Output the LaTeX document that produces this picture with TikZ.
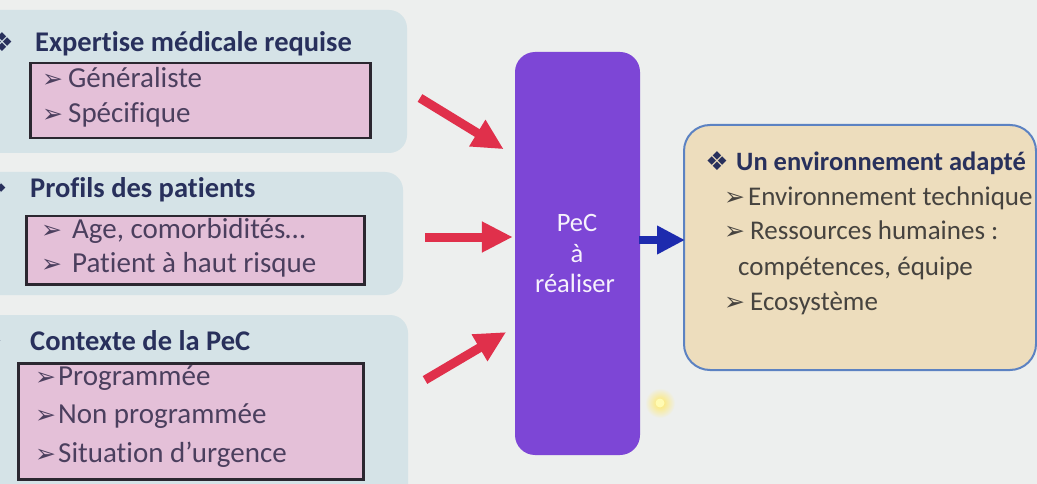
\documentclass[tikz,border=0pt]{standalone}
\usepackage{fontspec}
\setmainfont{Carlito}[Ligatures=NoCommon]
\newfontfamily\symfont{DejaVu Sans}
\usetikzlibrary{arrows.meta}

\definecolor{bgc}{HTML}{EDEFEE}
\definecolor{panelc}{HTML}{D5E3E7}
\definecolor{pinkc}{HTML}{E4C0D8}
\definecolor{pinkline}{HTML}{2B2730}
\definecolor{navyc}{HTML}{28305C}
\definecolor{itemc}{HTML}{4B3F5E}
\definecolor{purplec}{HTML}{7D46D6}
\definecolor{redc}{HTML}{E0304B}
\definecolor{bluec}{HTML}{1D2BAE}
\definecolor{envfill}{HTML}{EDDDBD}
\definecolor{envline}{HTML}{5C82C2}
\definecolor{envtext}{HTML}{46433F}

% four-diamond bullet for headings, arrowhead bullet for items
\newcommand{\diamondmark}{{\symfont\fontsize{26}{26}\selectfont ❖}}
\newcommand{\arrowmark}[1]{\makebox[#1][l]{\symfont\fontsize{25}{25}\selectfont ➢}}

\tikzset{
  panel/.style={fill=panelc, rounded corners=18pt},
  title/.style={anchor=base west, inner sep=0pt, text=navyc,
    font=\fontsize{28.5}{32}\selectfont\bfseries},
  item/.style={anchor=base west, inner sep=0pt, text=itemc,
    font=\fontsize{29}{32}\selectfont},
  envtitle/.style={anchor=base west, inner sep=0pt, text=navyc,
    font=\fontsize{26.5}{32}\selectfont\bfseries},
  envitem/.style={anchor=base west, inner sep=0pt, text=envtext,
    font=\fontsize{27}{32}\selectfont},
  symmark/.style={anchor=base, inner sep=0pt, text=navyc},
  pinkbox/.style={anchor=north west, draw=pinkline, line width=2.5pt,
    fill=pinkc, inner sep=0pt},
  pecbox/.style={fill=purplec, rounded corners=20pt, inner sep=0pt,
    minimum width=125pt, minimum height=403pt},
  pectext/.style={text=white!93!purplec, anchor=base, inner sep=0pt,
    font=\fontsize{26.5}{30}\selectfont},
  envbox/.style={draw=envline, line width=2pt, fill=envfill,
    rounded corners=26pt, inner sep=0pt, anchor=north west,
    minimum width=352pt, minimum height=245pt},
  inarrow/.style={draw=redc, line width=9pt,
    -{Triangle[length=31pt,width=29pt]}},
  outarrow/.style={draw=bluec, line width=8pt,
    -{Triangle[length=28pt,width=27pt]}}
}

\begin{document}
\begin{tikzpicture}[x=1pt,y=-1pt]
\useasboundingbox (0,0) rectangle (1037,484);
\clip (0,0) rectangle (1037,484);
\fill[bgc] (0,0) rectangle (1037,484);

% left-hand panels
\fill[panel] (-40,10) rectangle (407,153);
\fill[panel] (-40,172) rectangle (403,295);
\fill[panel] (-40,315) rectangle (408,520);

% panel 1: medical expertise
\node[symmark] (d1) at (2,52) {\diamondmark};
\node[title] (t1) at (35,52) {Expertise médicale requise};
\node[pinkbox, minimum width=340pt, minimum height=75pt] (p1) at (29,62) {};
\node[item] (i11) at (42,88) {\arrowmark{26pt}Généraliste};
\node[item] (i12) at (42,123) {\arrowmark{26pt}Spécifique};

% panel 2: patient profiles
\node[symmark] (d2) at (-4,197) {\diamondmark};
\node[title] (t2) at (30,197) {Profils des patients};
\node[pinkbox, minimum width=338pt, minimum height=68pt] (p2) at (25,215) {};
\node[item] (i21) at (41,239) {\arrowmark{31pt}Age, comorbidités…};
\node[item] (i22) at (41,272) {\arrowmark{31pt}Patient à haut risque};

% panel 3: care context
\node[symmark] (d3) at (-9,350) {\diamondmark};
\node[title] (t3) at (30,350) {Contexte de la PeC};
\node[pinkbox, minimum width=345pt, minimum height=116pt] (p3) at (17,362) {};
\node[item] (i31) at (35,385) {\arrowmark{23pt}Programmée};
\node[item] (i32) at (35,423) {\arrowmark{23pt}Non programmée};
\node[item] (i33) at (35,462) {\arrowmark{23pt}Situation d’urgence};

% central block
\node[pecbox] (pec) at (577.5,253.5) {};
\node[pectext] (pc1) at (577,232) {PeC};
\node[pectext] (pc2) at (577,262) {à};
\node[pectext] (pc3) at (575,292) {réaliser};

% right block
\node[envbox] (env) at (683,124) {};
\node[symmark] (d4) at (717,171) {\diamondmark};
\node[envtitle] (t4) at (736,171) {Un environnement adapté};
\node[envitem] (e1) at (724,206) {\arrowmark{24pt}Environnement technique};
\node[envitem] (e2) at (724,240) {\arrowmark{26pt}Ressources humaines :};
\node[envitem] (e3) at (738,275) {compétences, équipe};
\node[envitem] (e4) at (724,310) {\arrowmark{26pt}Ecosystème};

% incoming and outgoing arrows
\coordinate (r1) at (420,98);
\coordinate (r2) at (425,237);
\coordinate (r3) at (425,380);
\draw[inarrow, shorten >=13pt] (r1) -- (pec.west |- 0,156);
\draw[inarrow, shorten >=2pt] (r2) -- (pec.west |- 0,237);
\draw[inarrow, shorten >=10pt] (r3) -- (pec.west |- 0,327);
\draw[outarrow, shorten <=-1pt, shorten >=-2pt] (pec.east |- 0,240) -- (env.west |- 0,240);

% small light reflection
\shade[inner color=yellow!70!orange!60, outer color=bgc] (660,403) circle (15pt);
\fill[yellow!30!white] (660,403) circle (4.5pt);
\end{tikzpicture}
\end{document}
